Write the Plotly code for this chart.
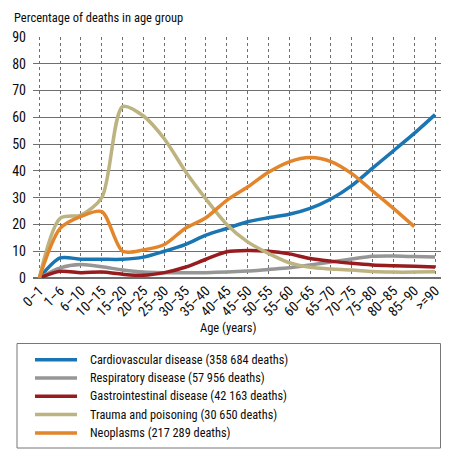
import plotly.graph_objects as go

age_groups = ["0–1", "1–6", "6–10", "10–15", "15–20", "20–25", "25–30", "30–35",
              "35–40", "40–45", "45–50", "50–55", "55–60", "60–65", "65–70",
              "70–75", "75–80", "80–85", "85–90", ">=90"]

cardiovascular = [0, 7.5, 7, 7, 7, 7.8, 10, 12.5, 16, 18.5, 21, 22.5, 23.8, 26,
                  29.5, 34.5, 41, 47.5, 54, 61]
respiratory = [0, 3.8, 5, 4.2, 3, 2.2, 2, 2, 2, 2.2, 2.6, 3.2, 3.8, 4.9, 6, 7.1,
               8.1, 8.2, 8, 7.8]
gastrointestinal = [0, 2.5, 2, 2.2, 1.4, 1, 2, 4, 7, 9.8, 10.3, 10, 9, 7.3, 6.3,
                    5.5, 4.9, 4.6, 4.4, 4.1]
trauma = [0, 22.3, 23.5, 30, 64, 60.5, 52, 40, 29.5, 20, 13.5, 9.2, 5.7, 4, 3.4,
          3, 2.4, 2.2, 2.2, 2.3]
neoplasms = [0, 18.5, 23, 24.8, 10, 10.5, 12.5, 18.5, 22.5, 29, 34, 39.5, 43.4,
             45, 43.5, 39, 32.5, 26, 19.2, None]

series_names = ["Cardiovascular disease (358 684 deaths)",
                "Respiratory disease (57 956 deaths)",
                "Gastrointestinal disease (42 163 deaths)",
                "Trauma and poisoning (30 650 deaths)",
                "Neoplasms (217 289 deaths)"]
series_values = [cardiovascular, respiratory, gastrointestinal, trauma, neoplasms]
series_colors = ["#1a76b2", "#969696", "#981b1e", "#bdb381", "#e2852b"]

y_ticks = [0, 10, 20, 30, 40, 50, 60, 70, 80, 90]

FONT = "Liberation Sans Narrow, Arial Narrow, Roboto Condensed, sans-serif"
TXT = "#0a0a0a"

fig = go.Figure()
for name, vals, col in zip(series_names, series_values, series_colors):
    fig.add_trace(go.Scatter(
        x=age_groups, y=vals, name=name, mode="lines",
        line=dict(color=col, width=3.5, shape="spline", smoothing=0.8),
        connectgaps=False, showlegend=False,
    ))

# page has an 8px body margin: figure drawn from (8, 8)
OFF = 8
W, H = 458 - OFF, 468 - OFF
L, R, T, B = 33 - OFF, 17, 37 - OFF, 190
pw, ph = W - L - R, H - T - B

def px_x(p):
    return (p - OFF - L) / pw

def px_y(p):
    return (H - B - (p - OFF)) / ph

# legend drawn as a boxed key below the plot
shapes = [dict(
    type="rect", xref="paper", yref="paper",
    x0=px_x(17), x1=px_x(440.5), y0=px_y(448), y1=px_y(343.5),
    line=dict(color="#777777", width=1), fillcolor="rgba(0,0,0,0)",
)]
annotations = [
    dict(text="Percentage of deaths in age group", xref="paper", yref="paper",
         x=px_x(12), y=px_y(17), xanchor="left", yanchor="middle",
         showarrow=False, font=dict(family=FONT, size=12.5, color=TXT)),
    dict(text="Age (years)", xref="paper", yref="paper",
         x=px_x(228), y=px_y(327), xanchor="center", yanchor="middle",
         showarrow=False, font=dict(family=FONT, size=12.5, color=TXT)),
]
row0, row_gap = 359.7, 18.3
for i, (name, col) in enumerate(zip(series_names, series_colors)):
    yy = px_y(row0 + i * row_gap)
    shapes.append(dict(type="line", xref="paper", yref="paper",
                       x0=px_x(35), x1=px_x(77), y0=yy, y1=yy,
                       line=dict(color=col, width=3.5)))
    annotations.append(dict(text=name, xref="paper", yref="paper",
                            x=px_x(88), y=yy, xanchor="left", yanchor="middle",
                            showarrow=False,
                            font=dict(family=FONT, size=12.3, color=TXT)))

fig.update_layout(
    width=W, height=H,
    margin=dict(l=L, r=R, t=T, b=B, autoexpand=False),
    paper_bgcolor="white", plot_bgcolor="white",
    font=dict(family=FONT, color=TXT, size=12),
    showlegend=False,
    xaxis=dict(
        type="category", range=[-0.302, 19.284],
        showgrid=True, gridcolor="#6e6e6e", griddash="dot", gridwidth=1,
        tickangle=-45, tickfont=dict(family=FONT, size=14, color=TXT),
        showline=False, zeroline=False, ticks="", ticklabelstandoff=1,
    ),
    yaxis=dict(
        range=[0, 90], tickvals=y_ticks,
        showgrid=True, gridcolor="#6f6f6f", gridwidth=1.3,
        tickfont=dict(family=FONT, size=14, color=TXT),
        zeroline=True, zerolinecolor="#6f6f6f", zerolinewidth=1.5,
        showline=False, ticks="", ticklabelstandoff=6,
    ),
    shapes=shapes,
    annotations=annotations,
)

fig.write_html("out.html")
